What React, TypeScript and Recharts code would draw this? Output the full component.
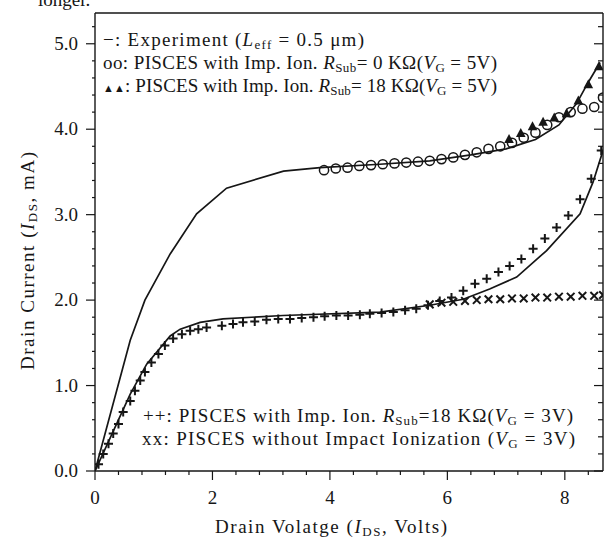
import { ComposedChart, Line, Scatter, XAxis, YAxis } from "recharts";

const FONT = "Liberation Serif, Tinos, 'Times New Roman', Times, serif";
const INK = "#161616";

// axis ticks
const voltTicks = [0, 0.4, 0.8, 1.2, 1.6, 2, 2.4, 2.8, 3.2, 3.6, 4, 4.4, 4.8, 5.2, 5.6, 6, 6.4, 6.8, 7.2, 7.6, 8, 8.4];
const voltLabels = [0, 2, 4, 6, 8];
const currentTicks = [0, 0.2, 0.4, 0.6, 0.8, 1, 1.2, 1.4, 1.6, 1.8, 2, 2.2, 2.4, 2.6, 2.8, 3, 3.2, 3.4, 3.6, 3.8, 4, 4.2, 4.4, 4.6, 4.8, 5, 5.2];
const currentLabels = [0, 1, 2, 3, 4, 5];

// experiment, VG = 5V (solid)
const exp5V = [0, 0.6, 0.85, 1.28, 1.73, 2.24, 3.21, 3.83, 4.85, 5.7, 6.4, 7.0, 7.5, 7.9, 8.2, 8.4, 8.6];
const exp5I = [0, 1.53, 2.0, 2.54, 3.01, 3.31, 3.51, 3.55, 3.59, 3.63, 3.7, 3.77, 3.88, 4.05, 4.3, 4.55, 4.78];

// experiment, VG = 3V (solid)
const exp3V = [0, 0.6, 0.88, 1.28, 1.45, 1.79, 2.18, 3.2, 4.85, 5.7, 6.27, 6.72, 7.18, 7.69, 8.26, 8.48, 8.65];
const exp3I = [0, 0.9, 1.25, 1.58, 1.66, 1.74, 1.78, 1.82, 1.86, 1.94, 2.01, 2.13, 2.27, 2.58, 3.01, 3.38, 3.75];

// oo: PISCES, Rsub = 0, VG = 5V
const circV = [3.9, 4.1, 4.3, 4.5, 4.7, 4.9, 5.1, 5.3, 5.5, 5.7, 5.9, 6.1, 6.3, 6.5, 6.7, 6.9, 7.1, 7.3, 7.5, 7.7, 7.9, 8.1, 8.3, 8.5, 8.65];
const circI = [3.52, 3.54, 3.55, 3.57, 3.58, 3.59, 3.6, 3.61, 3.62, 3.63, 3.65, 3.67, 3.7, 3.73, 3.77, 3.8, 3.84, 3.9, 3.96, 4.05, 4.14, 4.2, 4.24, 4.26, 4.37];

// triangles: PISCES, Rsub = 18K, VG = 5V
const triV = [7.05, 7.25, 7.45, 7.63, 7.82, 8.03, 8.23, 8.4, 8.58];
const triI = [3.88, 3.95, 4.03, 4.08, 4.13, 4.18, 4.33, 4.52, 4.73];

// ++: PISCES, Rsub = 18K, VG = 3V
const plusV = [0.06, 0.14, 0.23, 0.31, 0.4, 0.48, 0.6, 0.68, 0.77, 0.85, 0.96, 1.08, 1.19, 1.33, 1.48, 1.62, 1.76, 1.9, 2.16, 2.35, 2.52, 2.72, 2.92, 3.12, 3.32, 3.52, 3.72, 3.91, 4.11, 4.31, 4.51, 4.68, 4.88, 5.08, 5.28, 5.47, 5.67, 5.87, 6.07, 6.27, 6.47, 6.67, 6.87, 7.06, 7.26, 7.46, 7.66, 7.86, 8.06, 8.26, 8.45, 8.62];
const plusI = [0.08, 0.2, 0.32, 0.44, 0.55, 0.69, 0.82, 0.94, 1.06, 1.16, 1.27, 1.37, 1.47, 1.55, 1.6, 1.64, 1.66, 1.68, 1.7, 1.72, 1.74, 1.75, 1.77, 1.78, 1.78, 1.79, 1.8, 1.81, 1.82, 1.82, 1.83, 1.84, 1.85, 1.86, 1.88, 1.9, 1.94, 1.99, 2.03, 2.11, 2.19, 2.25, 2.33, 2.4, 2.48, 2.6, 2.72, 2.85, 2.99, 3.18, 3.42, 3.75];

// xx: PISCES without impact ionization, VG = 3V
const crossV = [5.7, 5.9, 6.1, 6.3, 6.5, 6.7, 6.9, 7.1, 7.3, 7.5, 7.7, 7.9, 8.1, 8.3, 8.5, 8.65];
const crossI = [1.95, 1.97, 1.98, 1.99, 2.0, 2.01, 2.01, 2.02, 2.02, 2.03, 2.03, 2.04, 2.04, 2.05, 2.05, 2.06];

const zip = (vs: number[], is: number[]) => vs.map((v, k) => ({ v, i: is[k] }));

const BottomTick = (p: any) => {
  const { x, y, payload } = p;
  const major = voltLabels.includes(payload.value);
  return (
    <g>
      <line x1={x} x2={x} y1={y} y2={y + (major ? 9 : 4)} stroke={INK} strokeWidth={1.2} />
      {major && (
        <text x={x} y={y + 33} textAnchor="middle" style={{ fontFamily: FONT }} fontSize={19} fill={INK}>
          {payload.value}
        </text>
      )}
    </g>
  );
};

const TopTick = (p: any) => {
  const { x, y, payload } = p;
  const major = voltLabels.includes(payload.value);
  return <line x1={x} x2={x} y1={y} y2={y + (major ? 9 : 5)} stroke={INK} strokeWidth={1.2} />;
};

const LeftTick = (p: any) => {
  const { x, y, payload } = p;
  const major = currentLabels.includes(payload.value);
  return (
    <g>
      <line x1={x} x2={x - (major ? 9 : 3)} y1={y} y2={y} stroke={INK} strokeWidth={1.2} />
      {major && (
        <text x={x - 17} y={y + 6} textAnchor="end" style={{ fontFamily: FONT }} fontSize={19} fill={INK}>
          {payload.value.toFixed(1)}
        </text>
      )}
    </g>
  );
};

const RightTick = (p: any) => {
  const { x, y, payload } = p;
  const major = currentLabels.includes(payload.value);
  return <line x1={x} x2={x - (major ? 9 : 5)} y1={y} y2={y} stroke={INK} strokeWidth={1.2} />;
};

const OpenCircle = (p: any) => <circle cx={p.cx} cy={p.cy} r={4.6} fill="none" stroke={INK} strokeWidth={1.5} />;
const Triangle = (p: any) => (
  <path d={`M${p.cx},${p.cy - 5.5}L${p.cx + 4.8},${p.cy + 3.5}L${p.cx - 4.8},${p.cy + 3.5}Z`} fill={INK} />
);
const Plus = (p: any) => (
  <path d={`M${p.cx - 4.5},${p.cy}H${p.cx + 4.5}M${p.cx},${p.cy - 4.5}V${p.cy + 4.5}`} stroke={INK} strokeWidth={2} />
);
const Cross = (p: any) => (
  <path
    d={`M${p.cx - 3.8},${p.cy - 3.8}L${p.cx + 3.8},${p.cy + 3.8}M${p.cx - 3.8},${p.cy + 3.8}L${p.cx + 3.8},${p.cy - 3.8}`}
    stroke={INK}
    strokeWidth={2}
  />
);

const axisLine = { stroke: INK, strokeWidth: 1.4 };

const Sub = ({ children }: { children: string }) => (
  <tspan fontSize={13} dy={3}>
    {children}
  </tspan>
);

export default function App() {
  const txt = { style: { fontFamily: FONT }, fontSize: 19, fill: INK };
  return (
    <div style={{ position: "absolute", left: 0, top: 0, width: 606, height: 545, background: "#fff" }}>
      <ComposedChart width={606} height={545} margin={{ top: 0, right: 0, bottom: 0, left: 0 }}>
        <XAxis
          dataKey="v"
          type="number"
          domain={[0, 8.65]}
          allowDataOverflow
          ticks={voltTicks}
          interval={0}
          tickSize={0}
          tickMargin={0}
          tickLine={false}
          axisLine={axisLine}
          height={74}
          tick={(p: any) => <BottomTick {...p} />}
        />
        <XAxis
          xAxisId="top"
          orientation="top"
          type="number"
          domain={[0, 8.65]}
          allowDataOverflow
          ticks={voltTicks}
          interval={0}
          tickSize={0}
          tickMargin={0}
          tickLine={false}
          axisLine={axisLine}
          height={13}
          tick={(p: any) => <TopTick {...p} />}
        />
        <YAxis
          dataKey="i"
          type="number"
          domain={[0, 5.36]}
          allowDataOverflow
          ticks={currentTicks}
          interval={0}
          tickSize={0}
          tickMargin={0}
          tickLine={false}
          axisLine={axisLine}
          width={95}
          tick={(p: any) => <LeftTick {...p} />}
        />
        <YAxis
          yAxisId="right"
          orientation="right"
          type="number"
          domain={[0, 5.36]}
          allowDataOverflow
          ticks={currentTicks}
          interval={0}
          tickSize={0}
          tickMargin={0}
          tickLine={false}
          axisLine={axisLine}
          width={3}
          tick={(p: any) => <RightTick {...p} />}
        />
        <Line data={zip(exp5V, exp5I)} dataKey="i" type="linear" stroke={INK} strokeWidth={1.7} dot={false} isAnimationActive={false} />
        <Line data={zip(exp3V, exp3I)} dataKey="i" type="linear" stroke={INK} strokeWidth={1.7} dot={false} isAnimationActive={false} />
        <Scatter data={zip(circV, circI)} dataKey="i" shape={OpenCircle} isAnimationActive={false} />
        <Scatter data={zip(triV, triI)} dataKey="i" shape={Triangle} isAnimationActive={false} />
        <Scatter data={zip(crossV, crossI)} dataKey="i" shape={Cross} isAnimationActive={false} />
        <Scatter data={zip(plusV, plusI)} dataKey="i" shape={Plus} isAnimationActive={false} />
      </ComposedChart>
      <svg width={606} height={545} style={{ position: "absolute", left: 0, top: 0, pointerEvents: "none" }}>
        <text x={38} y={6} {...txt}>longer.</text>
        <text x={103} y={46} {...txt} textLength={261}>
          −: Experiment (<tspan fontStyle="italic">L</tspan><Sub>eff</Sub><tspan dy={-3}> = 0.5 μm)</tspan>
        </text>
        <text x={103} y={69} {...txt} textLength={394}>
          oo: PISCES with Imp. Ion. <tspan fontStyle="italic">R</tspan><Sub>Sub</Sub>
          <tspan dy={-3}>= 0  KΩ(</tspan><tspan fontStyle="italic">V</tspan><Sub>G</Sub><tspan dy={-3}> = 5V)</tspan>
        </text>
        <text x={103} y={92} {...txt} textLength={394}>
          <tspan fontSize={11}>▲▲</tspan>: PISCES with Imp. Ion. <tspan fontStyle="italic">R</tspan><Sub>Sub</Sub>
          <tspan dy={-3}>= 18 KΩ(</tspan><tspan fontStyle="italic">V</tspan><Sub>G</Sub><tspan dy={-3}> = 5V)</tspan>
        </text>
        <text x={143} y={422} {...txt} textLength={430}>
          ++: PISCES with Imp. Ion. <tspan fontStyle="italic">R</tspan><Sub>Sub</Sub>
          <tspan dy={-3}>=18 KΩ(</tspan><tspan fontStyle="italic">V</tspan><Sub>G</Sub><tspan dy={-3}> = 3V)</tspan>
        </text>
        <text x={142} y={445} {...txt} textLength={433}>
          xx: PISCES without Impact Ionization (<tspan fontStyle="italic">V</tspan><Sub>G</Sub><tspan dy={-3}> = 3V)</tspan>
        </text>
        <text x={331} y={533} {...txt} textAnchor="middle" textLength={232}>
          Drain  Volatge (<tspan fontStyle="italic">I</tspan><Sub>DS</Sub><tspan dy={-3}>, Volts)</tspan>
        </text>
        <text x={0} y={0} {...txt} textAnchor="middle" textLength={218} transform="translate(34 261) rotate(-90)">
          Drain  Current (<tspan fontStyle="italic">I</tspan><Sub>DS</Sub><tspan dy={-3}>, mA)</tspan>
        </text>
      </svg>
    </div>
  );
}
